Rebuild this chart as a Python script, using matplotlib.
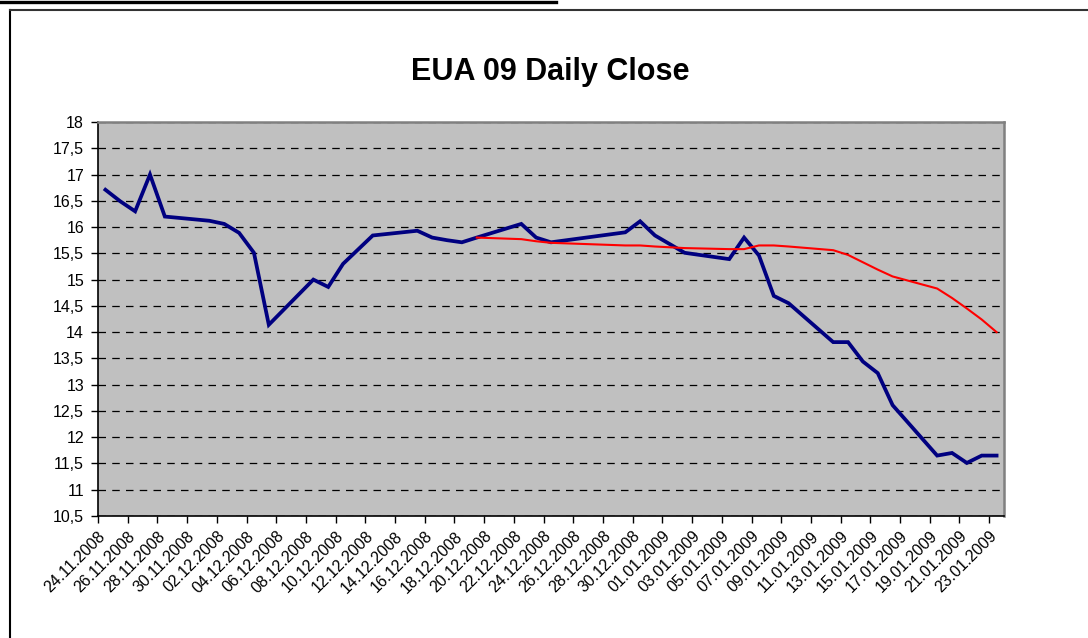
import numpy as np
import pandas as pd
import matplotlib
matplotlib.use("Agg")
import matplotlib.pyplot as plt
from matplotlib.lines import Line2D

plt.rcParams['font.family'] = ['Liberation Sans', 'DejaVu Sans']

# EUA 09 daily close (trading days only)
close_dates = ['24.11.2008', '25.11.2008', '26.11.2008', '27.11.2008', '28.11.2008',
               '01.12.2008', '02.12.2008', '03.12.2008', '04.12.2008', '05.12.2008',
               '08.12.2008', '09.12.2008', '10.12.2008', '11.12.2008', '12.12.2008',
               '15.12.2008', '16.12.2008', '17.12.2008', '18.12.2008', '19.12.2008',
               '22.12.2008', '23.12.2008', '24.12.2008',
               '29.12.2008', '30.12.2008', '31.12.2008', '02.01.2009',
               '05.01.2009', '06.01.2009', '07.01.2009', '08.01.2009', '09.01.2009',
               '12.01.2009', '13.01.2009', '14.01.2009', '15.01.2009', '16.01.2009',
               '19.01.2009', '20.01.2009', '21.01.2009', '22.01.2009', '23.01.2009']
close_vals = [16.71, 16.49, 16.30, 17.00, 16.20,
              16.12, 16.06, 15.89, 15.51, 14.14,
              15.00, 14.86, 15.30, 15.57, 15.84,
              15.93, 15.80, 15.75, 15.71, 15.80,
              16.06, 15.80, 15.71,
              15.90, 16.11, 15.84, 15.51,
              15.39, 15.80, 15.46, 14.69, 14.55,
              13.81, 13.81, 13.44, 13.22, 12.61,
              11.65, 11.70, 11.51, 11.65, 11.65]

# red line
red_dates = ['19.12.2008', '22.12.2008', '23.12.2008', '24.12.2008',
             '29.12.2008', '30.12.2008', '31.12.2008', '02.01.2009',
             '05.01.2009', '06.01.2009', '07.01.2009', '08.01.2009', '09.01.2009',
             '12.01.2009', '13.01.2009', '14.01.2009', '15.01.2009', '16.01.2009',
             '19.01.2009', '20.01.2009', '21.01.2009', '22.01.2009', '23.01.2009']
red_vals = [15.80, 15.77, 15.73, 15.70,
            15.65, 15.65, 15.63, 15.60,
            15.58, 15.58, 15.65, 15.65, 15.63,
            15.56, 15.47, 15.33, 15.19, 15.06,
            14.83, 14.65, 14.45, 14.24, 14.00]

start = pd.Timestamp('2008-11-24')
end = pd.Timestamp('2009-01-23')

def day_pos(dates):
    d = pd.to_datetime(dates, format='%d.%m.%Y')
    return (d - start).days.values + 0.5

fig = plt.figure(figsize=(10.88, 6.38), dpi=100)
ax = fig.add_axes([98/1088, 1 - 516/638, (1004 - 98)/1088, (516 - 122)/638])
ax.set_facecolor('#C0C0C0')

ax.plot(day_pos(close_dates), close_vals, color='#000080', lw=2.7, zorder=3,
        solid_joinstyle='miter')
ax.plot(day_pos(red_dates), red_vals, color='#FF0000', lw=1.5, zorder=4)

ndays = (end - start).days + 1
ax.set_xlim(0, ndays)
ax.set_ylim(10.5, 18)

tick_days = pd.date_range(start, end, freq='2D')
ax.set_xticks((tick_days - start).days.values)
ax.set_xticklabels([t.strftime('%d.%m.%Y') for t in tick_days], rotation=45,
                   ha='right', rotation_mode='anchor', fontsize=11.5)
yt = np.arange(10.5, 18.01, 0.5)
ax.set_yticks(yt)
ax.set_yticklabels([('%g' % v).replace('.', ',') for v in yt], fontsize=11.5)
ax.tick_params(axis='both', direction='out', length=5, width=1, color='black')
ax.tick_params(axis='y', pad=5)
ax.tick_params(axis='x', pad=4)

ax.grid(axis='y', color='black', linestyle=(0, (6, 5)), lw=0.9)
ax.set_axisbelow(True)
for s in ['top', 'right']:
    ax.spines[s].set_color('#808080')
    ax.spines[s].set_linewidth(1.8)
for s in ['left', 'bottom']:
    ax.spines[s].set_color('black')
    ax.spines[s].set_linewidth(1.2)

fig.text(550/1088, 1 - 72/638, 'EUA 09 Daily Close', ha='center', va='center',
         fontsize=22, fontweight='bold')

# outer frame lines
fig.add_artist(Line2D([0, 556/1088], [1 - 1.5/638, 1 - 1.5/638], color='black', lw=2.4))
fig.add_artist(Line2D([9.5/1088, 9.5/1088], [0, 1 - 9.5/638], color='black', lw=1.5))
fig.add_artist(Line2D([9.5/1088, 1], [1 - 9.5/638, 1 - 9.5/638], color='#333333', lw=1.5))

fig.savefig('out.png', dpi=100)
